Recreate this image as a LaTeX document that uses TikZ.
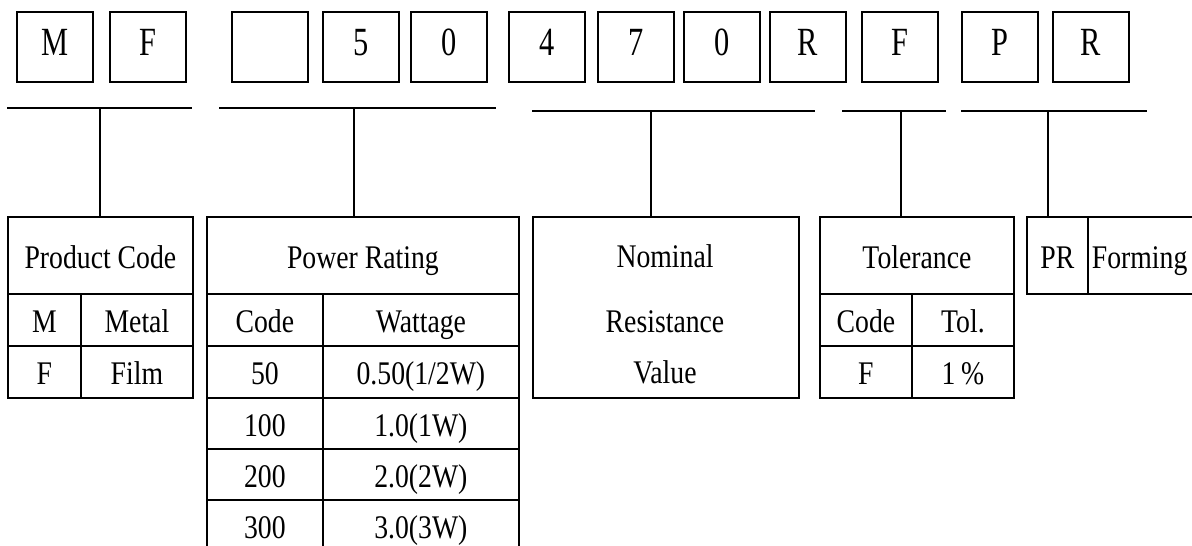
\documentclass[tikz,border=0pt]{standalone}
\usepackage{fontspec}
\setmainfont{Liberation Serif}
\newfontfamily\reffont[FakeStretch=0.84]{Liberation Serif}
\newfontfamily\topfont[FakeStretch=0.76]{Liberation Serif}
\newcommand\mycell[6]{\node[cellbox, minimum width=#4pt, minimum height=#5pt] (#1) at (#2,#3) {#6};}
\newcommand\mytop[3]{\node[topbox] (#1) at (#2,11) {#3};}
\begin{document}
\begin{tikzpicture}[x=1pt,y=-1pt,line width=1.8pt,
  cellbox/.style={draw, rectangle, inner sep=0pt, anchor=north west,
    font=\reffont\fontsize{33}{36}\selectfont, text height=28pt, text depth=2pt},
  topbox/.style={draw, rectangle, inner sep=0pt, anchor=north west,
    minimum width=76pt, minimum height=70pt,
    font=\topfont\fontsize{40}{42}\selectfont, text height=26pt, text depth=8pt},
  lbl/.style={inner sep=0pt, anchor=base, font=\reffont\fontsize{33}{36}\selectfont},
  bracket/.style={line width=1.8pt}]
\useasboundingbox (0,0) rectangle (1192,546);
\clip (0,0) rectangle (1192,546);
% top code boxes
\mytop{c1}{16}{M}
\mytop{c2}{109}{F}
\mytop{c3}{231}{}
\mytop{c4}{322}{5}
\mytop{c5}{410}{0}
\mytop{c6}{508}{4}
\mytop{c7}{597}{7}
\mytop{c8}{683}{0}
\mytop{c9}{769}{R}
\mytop{c10}{861}{F}
\mytop{c11}{961}{P}
\mytop{c12}{1052}{R}
% brackets
\coordinate (b1l) at (7,108); \coordinate (b1r) at (192,108); \coordinate (b1m) at (100,108);
\coordinate (b2l) at (219,108); \coordinate (b2r) at (496,108); \coordinate (b2m) at (354,108);
\coordinate (b3l) at (532,111); \coordinate (b3r) at (815,111); \coordinate (b3m) at (651,111);
\coordinate (b4l) at (842,111); \coordinate (b4r) at (946,111); \coordinate (b4m) at (901,111);
\coordinate (b5l) at (961,111); \coordinate (b5r) at (1147,111); \coordinate (b5m) at (1048,111);
% Product code table
\mycell{pc}{7}{216}{185}{77}{Product Code}
\mycell{pcm}{7}{293}{73}{52}{M}
\mycell{pcmv}{80}{293}{112}{52}{Metal}
\mycell{pcf}{7}{345}{73}{52}{F}
\mycell{pcfv}{80}{345}{112}{52}{Film}
% Power rating table
\mycell{pr}{206}{216}{312}{77}{Power Rating}
\mycell{prc}{206}{293}{116}{52}{Code}
\mycell{prw}{322}{293}{196}{52}{Wattage}
\mycell{pra}{206}{345}{116}{52}{50}
\mycell{praw}{322}{345}{196}{52}{0.50(1/2W)}
\mycell{prb}{206}{397}{116}{51}{100}
\mycell{prbw}{322}{397}{196}{51}{1.0(1W)}
\mycell{prcc}{206}{448}{116}{51}{200}
\mycell{prcw}{322}{448}{196}{51}{2.0(2W)}
\mycell{prd}{206}{499}{116}{52}{300}
\mycell{prdw}{322}{499}{196}{52}{3.0(3W)}
% Nominal resistance value
\mycell{nr}{532}{216}{266}{181}{}
\node[lbl] (nr1) at (665,267) {Nominal};
\node[lbl] (nr2) at (665,332) {Resistance};
\node[lbl] (nr3) at (665,383) {Value};
% Tolerance table
\mycell{tol}{819}{216}{194}{77}{Tolerance}
\mycell{tolc}{819}{293}{92}{52}{Code}
\mycell{tolt}{911}{293}{102}{52}{Tol.}
\mycell{tolf}{819}{345}{92}{52}{F}
\mycell{tolv}{911}{345}{102}{52}{1\,\%}
% Forming table
\mycell{fpr}{1026}{216}{61}{77}{PR}
\mycell{ffm}{1087}{216}{112}{77}{}
\node[lbl, anchor=base west] (ffmt) at (1091,268) {Forming};
% connectors
\draw[bracket] (b1l) -- (b1r); \draw[bracket] (b1m) -- (b1m |- pc.north);
\draw[bracket] (b2l) -- (b2r); \draw[bracket] (b2m) -- (b2m |- pr.north);
\draw[bracket] (b3l) -- (b3r); \draw[bracket] (b3m) -- (b3m |- nr.north);
\draw[bracket] (b4l) -- (b4r); \draw[bracket] (b4m) -- (b4m |- tol.north);
\draw[bracket] (b5l) -- (b5r); \draw[bracket] (b5m) -- (b5m |- fpr.north);
\end{tikzpicture}
\end{document}
